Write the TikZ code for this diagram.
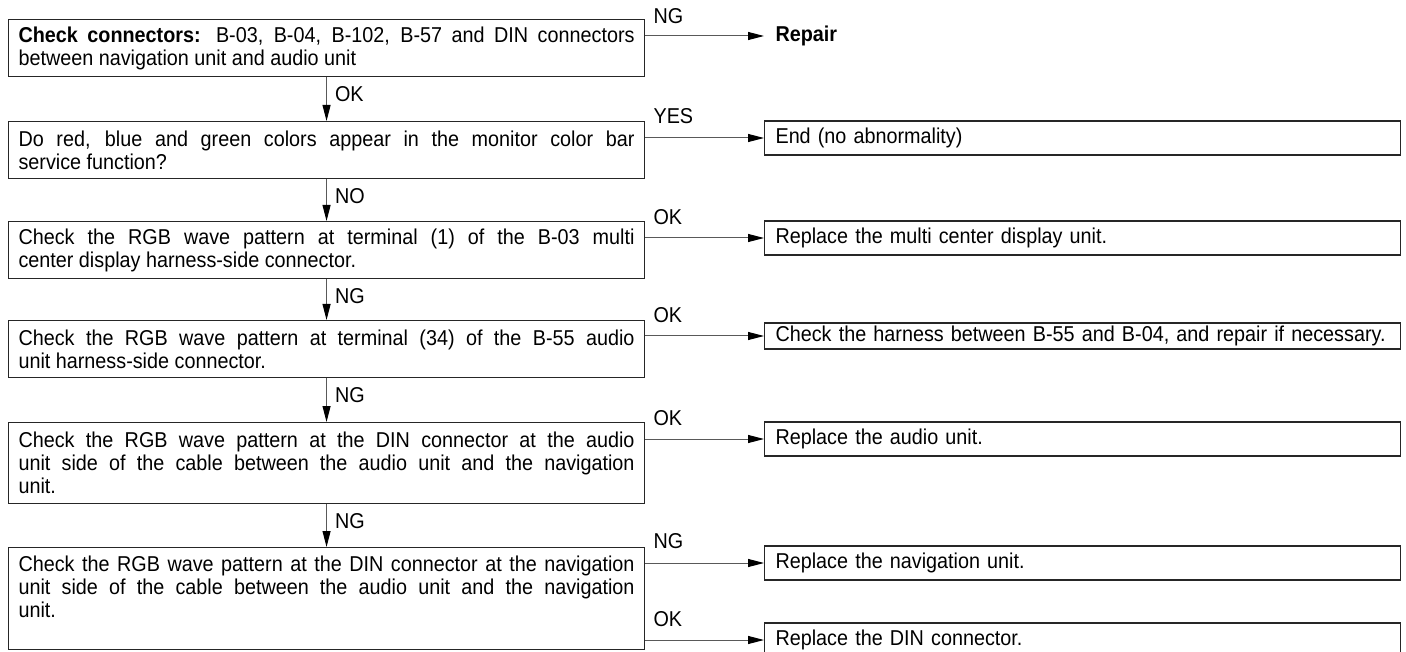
\documentclass[tikz,border=0pt]{standalone}
\usepackage{fontspec}
\setmainfont{Liberation Sans}[FakeStretch=0.92]
\usetikzlibrary{arrows.meta}
\setlength{\parindent}{0pt}

\begin{document}
\begin{tikzpicture}[x=1pt, y=-1pt,
    caja/.style={draw=black!85, line width=1.1pt, anchor=north west, inner xsep=10pt, inner ysep=0pt, text width=616pt, align=justify, font=\fontsize{21.5}{23}\selectfont},
    resultado/.style={draw=black!85, line width=1.1pt, anchor=west, inner xsep=11pt, inner ysep=0pt, text width=614pt, minimum height=34pt, align=left, font=\fontsize{21.5}{23}\selectfont},
    flecha/.style={draw=black!65, line width=1pt, -{Triangle[length=16pt,width=8pt,color=black]}},
    etiq/.style={font=\fontsize{21.5}{23}\selectfont, inner sep=0pt}
  ]
	\useasboundingbox (0,0) rectangle (1406,652);
	\clip (0,0) rectangle (1406,652);

	%Cajas de comprobacion
		\node[caja, minimum height=57pt] (c1) at (8,19) {\textbf{Check connectors:} B-03, B-04, B-102, B-57 and DIN connectors\linebreak between navigation unit and audio unit};
		\node[caja, minimum height=57pt] (c2) at (8,121) {Do red, blue and green colors appear in the monitor color bar\linebreak service function?};
		\node[caja, minimum height=57pt] (c3) at (8,221) {Check the RGB wave pattern at terminal (1) of the B-03 multi\linebreak center display harness-side connector.};
		\node[caja, minimum height=57pt] (c4) at (8,320) {Check the RGB wave pattern at terminal (34) of the B-55 audio\linebreak unit harness-side connector.};
		\node[caja, minimum height=81pt] (c5) at (8,422) {Check the RGB wave pattern at the DIN connector at the audio\linebreak unit side of the cable between the audio unit and the navigation\linebreak unit.};
		\node[caja, minimum height=102pt] (c6) at (8,547) {Check the RGB wave pattern at the DIN connector at the navigation\linebreak unit side of the cable between the audio unit and the navigation\linebreak unit.\newline\mbox{}};

	%Cajas de resultado
		\node[resultado, draw=none, font=\bfseries\fontsize{21.5}{23}\selectfont] (rep) at (764,36) {Repair};
		\node[resultado] (fin) at (764,138) {End (no abnormality)};
		\node[resultado] (mcd) at (764,238) {Replace the multi center display unit.};
		\node[resultado, minimum height=26pt] (arn) at (764,336) {Check the harness between B-55 and B-04, and repair if necessary.};
		\node[resultado] (aud) at (764,439) {Replace the audio unit.};
		\node[resultado] (nav) at (764,563) {Replace the navigation unit.};
		\node[resultado] (din) at (764,640) {Replace the DIN connector.};

	%Flechas hacia abajo
		\draw[flecha] (c1.south) node[etiq, anchor=north west, xshift=8pt, yshift=-9pt] {OK} -- (c2.north);
		\draw[flecha] (c2.south) node[etiq, anchor=north west, xshift=8pt, yshift=-9pt] {NO} -- (c3.north);
		\draw[flecha] (c3.south) node[etiq, anchor=north west, xshift=8pt, yshift=-9pt] {NG} -- (c4.north);
		\draw[flecha] (c4.south) node[etiq, anchor=north west, xshift=8pt, yshift=-9pt] {NG} -- (c5.north);
		\draw[flecha] (c5.south) node[etiq, anchor=north west, xshift=8pt, yshift=-9pt] {NG} -- (c6.north);

	%Flechas hacia la derecha
		\draw[flecha] (c1.east |- rep.west) node[etiq, anchor=south west, xshift=8pt, yshift=12pt] {NG} -- (rep.west);
		\draw[flecha] (c2.east |- fin.west) node[etiq, anchor=south west, xshift=8pt, yshift=14pt] {YES} -- (fin.west);
		\draw[flecha] (c3.east |- mcd.west) node[etiq, anchor=south west, xshift=8pt, yshift=13pt] {OK} -- (mcd.west);
		\draw[flecha] (c4.east |- arn.west) node[etiq, anchor=south west, xshift=8pt, yshift=13pt] {OK} -- (arn.west);
		\draw[flecha] (c5.east |- aud.west) node[etiq, anchor=south west, xshift=8pt, yshift=13pt] {OK} -- (aud.west);
		\draw[flecha] (c6.east |- nav.west) node[etiq, anchor=south west, xshift=8pt, yshift=14pt] {NG} -- (nav.west);
		\draw[flecha] (c6.east |- din.west) node[etiq, anchor=south west, xshift=8pt, yshift=13pt] {OK} -- (din.west);
\end{tikzpicture}
\end{document}
